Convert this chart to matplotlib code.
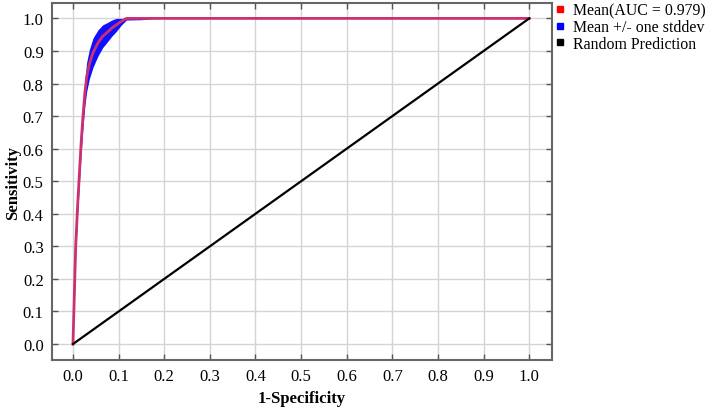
import matplotlib
matplotlib.use("Agg")
import matplotlib.pyplot as plt
import numpy as np
from matplotlib.lines import Line2D

plt.rcParams['font.family'] = ['Liberation Serif', 'DejaVu Serif']

fpr = [0, 0.003, 0.006, 0.010, 0.014, 0.018, 0.022, 0.026, 0.030, 0.036, 0.044,
       0.055, 0.065, 0.075, 0.085, 0.095, 0.105, 0.117, 0.15, 0.18, 1.0]
tpr = [0, 0.15, 0.30, 0.42, 0.52, 0.62, 0.70, 0.77, 0.82, 0.86, 0.895,
       0.925, 0.945, 0.957, 0.97, 0.98, 0.99, 1.0, 1.0, 1.0, 1.0]
tpr_std = [0, 0.02, 0.025, 0.03, 0.03, 0.035, 0.035, 0.04, 0.045, 0.045, 0.045,
           0.04, 0.035, 0.03, 0.025, 0.02, 0.012, 0.005, 0.004, 0, 0]
random_x = [0, 1]
random_y = [0, 1]
ticks = [0.0, 0.1, 0.2, 0.3, 0.4, 0.5, 0.6, 0.7, 0.8, 0.9, 1.0]
labels = ["Mean(AUC = 0.979)", "Mean +/- one stddev", "Random Prediction"]

fpr_a = np.array(fpr)
tpr_a = np.array(tpr)
std_a = np.array(tpr_std)
upper = np.minimum(tpr_a + std_a, 1.0)
lower = np.maximum(tpr_a - std_a, 0.0)

fig = plt.figure(figsize=(7.09, 4.10), dpi=100)
ax = fig.add_axes([0.0733, 0.1195, 0.7053, 0.8705])

ax.fill_between(fpr_a, lower, upper, color='#1010ff', linewidth=0, zorder=2)
ax.plot(fpr_a, tpr_a, color='#cc3070', lw=2, zorder=3)
ax.plot(random_x, random_y, color='black', lw=1.6, zorder=3)

ax.set_xlim(-0.046, 1.05)
ax.set_ylim(-0.049, 1.047)
ax.set_xticks(ticks)
ax.set_yticks(ticks)
ax.set_xticklabels([f"{t:.1f}" for t in ticks])
ax.set_yticklabels([f"{t:.1f}" for t in ticks])
ax.grid(True, color='#d4d4d4', lw=1.0, zorder=0)
ax.set_axisbelow(True)
ax.tick_params(direction='in', length=4, width=1, color='#555555',
               top=True, right=True, labelsize=12, pad=6)
for s in ax.spines.values():
    s.set_color('#666666')
    s.set_linewidth(1.5)

ax.set_xlabel("1-Specificity", fontsize=12, fontweight='bold', labelpad=4)
ax.set_ylabel("Sensitivity", fontsize=12, fontweight='bold', labelpad=1)

handles = [Line2D([], [], marker='s', ls='', color='red', markersize=5),
           Line2D([], [], marker='s', ls='', color='blue', markersize=5),
           Line2D([], [], marker='s', ls='', color='black', markersize=5)]
leg = fig.legend(handles, labels, loc='upper left', bbox_to_anchor=(0.768, 1.018),
                 frameon=False, fontsize=11.4, handlelength=0.6, handletextpad=0.5,
                 labelspacing=0.03, borderpad=0.2)

fig.savefig("out.png", dpi=100)
